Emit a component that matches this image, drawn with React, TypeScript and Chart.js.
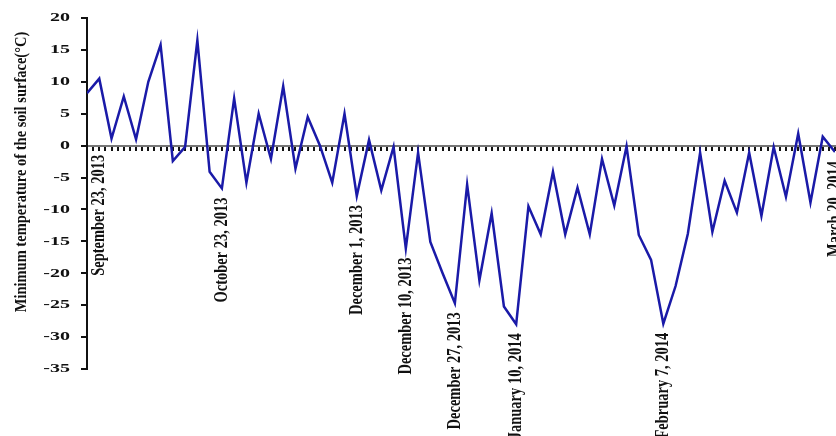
import React, { useEffect, useRef } from "react";
import { Chart, registerables } from "chart.js";

Chart.register(...registerables);

// Minimum temperature of the soil surface (°C), one value per observation
const temperatures: number[] = [
  8.2, 10.5, 1.1, 7.7, 1.0, 10.0, 15.8, -2.4, -0.2, 16.5,
  -4.1, -6.7, 7.4, -5.8, 5.0, -2.1, 9.3, -3.6, 4.5, 0.0,
  -5.8, 5.0, -7.9, 0.9, -7.0, -0.2, -16.1, -1.1, -15.1, -20.0,
  -24.7, -6.1, -21.1, -10.6, -25.2, -28.0, -9.5, -13.9, -4.1, -13.9,
  -6.6, -13.9, -2.1, -9.4, -0.1, -14.0, -17.9, -27.9, -22.0, -13.8,
  -1.1, -13.5, -5.5, -10.5, -1.1, -11.0, -0.2, -8.0, 1.9, -8.9,
  1.4, -1.0,
];

// Observations that carry a date label
const markerIndices: number[] = [1, 11, 22, 26, 30, 35, 47, 61];
const markerLabels: string[] = [
  "September 23, 2013",
  "October 23, 2013",
  "December 1, 2013",
  "December 10, 2013",
  "December 27, 2013",
  "January 10, 2014",
  "February 7, 2014",
  "March 20, 2014",
];

const yTickValues: number[] = [20, 15, 10, 5, 0, -5, -10, -15, -20, -25, -30, -35];
const yTitle = "Minimum temperature of the soil surface(°C)";

const FONT = '"Liberation Serif", "Times New Roman", serif';

const textPlugin = {
  id: "textPlugin",
  afterDraw(chart: any) {
    const ctx = chart.ctx as CanvasRenderingContext2D;
    const xs = chart.scales.x;
    const ys = chart.scales.y;
    const left = chart.chartArea.left;
    ctx.save();
    ctx.fillStyle = "#111";

    // y tick labels
    ctx.font = `bold 12.5px ${FONT}`;
    ctx.textAlign = "right";
    ctx.textBaseline = "middle";
    for (const v of yTickValues) {
      const py = ys.getPixelForValue(v);
      ctx.save();
      ctx.translate(left - 17, py);
      ctx.scale(1.6, 1);
      ctx.fillText(String(v), 0, 0);
      ctx.restore();
    }

    // y title
    ctx.font = `bold 14.5px ${FONT}`;
    ctx.textAlign = "center";
    ctx.save();
    ctx.translate(21, 172);
    ctx.rotate(-Math.PI / 2);
    ctx.scale(1, 1.2);
    ctx.fillText(yTitle, 0, 0);
    ctx.restore();

    // date labels under the marked points
    const zeroY = ys.getPixelForValue(0);
    ctx.textAlign = "right";
    markerIndices.forEach((idx, k) => {
      const px = xs.getPixelForValue(idx);
      const py = ys.getPixelForValue(temperatures[idx]);
      const top = Math.max(py, zeroY) + 9;
      ctx.save();
      ctx.translate(px, top);
      ctx.rotate(-Math.PI / 2);
      ctx.scale(1, 1.35);
      ctx.fillText(markerLabels[k], 0, 0);
      ctx.restore();
    });
    ctx.restore();
  },
};

export default function App() {
  const canvasRef = useRef<HTMLCanvasElement | null>(null);

  useEffect(() => {
    document.body.style.margin = "0";
    const canvas = canvasRef.current;
    if (!canvas) return;
    const chart = new Chart(canvas, {
      type: "line",
      data: {
        datasets: [
          {
            data: temperatures.map((v, i) => ({ x: i, y: v })),
            borderColor: "#1a1aa8",
            borderWidth: 2.5,
            pointRadius: 0,
            tension: 0,
            fill: false,
          },
        ],
      },
      options: {
        animation: false,
        responsive: false,
        devicePixelRatio: 1,
        layout: { padding: { top: 18, bottom: 67, left: 0, right: 1 } },
        plugins: {
          legend: { display: false },
          tooltip: { enabled: false },
          title: { display: false },
        },
        scales: {
          x: {
            type: "linear",
            min: 0,
            max: temperatures.length - 1,
            position: { y: 0 } as any,
            ticks: { display: false, stepSize: 0.5, maxTicksLimit: 500, autoSkip: false },
            grid: {
              drawOnChartArea: false,
              drawTicks: true,
              tickLength: 4,
              color: "#111",
              lineWidth: 2,
            },
            border: { display: true, color: "#777", width: 2 },
          },
          y: {
            min: -35,
            max: 20,
            ticks: { display: false, stepSize: 5 },
            grid: {
              drawOnChartArea: false,
              drawTicks: true,
              tickLength: 6,
              color: "#111",
              lineWidth: 2,
            },
            border: { display: true, color: "#111", width: 2 },
            afterFit: (scale: any) => {
              scale.width = 87;
            },
          },
        },
      },
      plugins: [textPlugin],
    });
    return () => chart.destroy();
  }, []);

  return (
    <div style={{ width: 836, height: 436, background: "#fff" }}>
      <canvas ref={canvasRef} width={836} height={436} />
    </div>
  );
}
